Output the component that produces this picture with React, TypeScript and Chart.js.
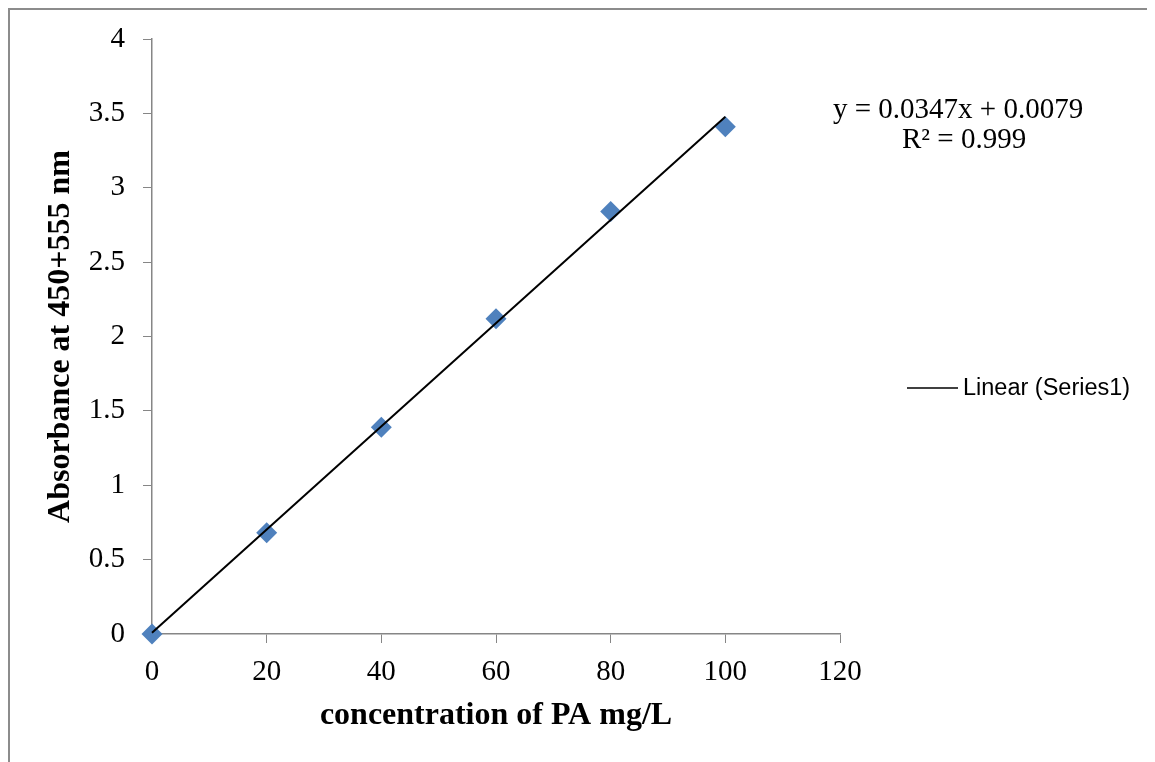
import React, { useEffect, useRef } from "react";
import { Chart, registerables } from "chart.js";

Chart.register(...registerables);

// Data
const concentrations = [0, 20, 40, 60, 80, 100];
const absorbances = [0, 0.68, 1.39, 2.12, 2.84, 3.41];
const trendX = [0, 100];
const trendY = [0.0079, 3.4779];
const equationLines = ["y = 0.0347x + 0.0079", "R\u00b2 = 0.999"];
const legendLabel = "Linear (Series1)";
const xTitle = "concentration of PA mg/L";
const yTitle = "Absorbance at 450+555 nm";

const AXIS = "#868686";
const SERIF = "'Liberation Serif', 'Times New Roman', serif";

const annotationPlugin = {
  id: "annotations",
  afterDraw(chart: any) {
    const ctx = chart.ctx;
    ctx.save();
    // trendline equation
    ctx.fillStyle = "#000";
    ctx.font = `29px ${SERIF}`;
    ctx.textBaseline = "alphabetic";
    ctx.textAlign = "left";
    ctx.fillText(equationLines[0], 823, 108);
    ctx.fillText(equationLines[1], 892, 138);
    // legend
    const ly = 378;
    ctx.strokeStyle = "#000";
    ctx.lineWidth = 1.5;
    ctx.beginPath();
    ctx.moveTo(897, ly);
    ctx.lineTo(948, ly);
    ctx.stroke();
    ctx.font = `23.5px 'Liberation Sans', Arial, sans-serif`;
    ctx.textBaseline = "middle";
    ctx.fillText(legendLabel, 953, ly + 1);
    ctx.restore();
  },
};

export default function App() {
  const ref = useRef<HTMLCanvasElement | null>(null);

  useEffect(() => {
    document.documentElement.style.overflow = "hidden";
    document.body.style.overflow = "hidden";
    const canvas = ref.current;
    if (!canvas) return;
    const chart = new Chart(canvas, {
      type: "scatter",
      data: {
        datasets: [
          {
            label: legendLabel,
            data: trendX.map((x, i) => ({ x, y: trendY[i] })),
            showLine: true,
            borderColor: "#000",
            borderWidth: 2,
            pointRadius: 0,
            fill: false,
            clip: false,
          },
          {
            label: "Series1",
            data: concentrations.map((x, i) => ({ x, y: absorbances[i] })),
            pointStyle: "rectRot",
            pointRadius: 10.5,
            backgroundColor: "#4f81bd",
            borderColor: "#4f81bd",
            borderWidth: 0,
            clip: false,
          },
        ],
      },
      options: {
        animation: false,
        responsive: false,
        layout: { padding: { left: 0, top: 0, right: 315, bottom: 0 } },
        plugins: {
          legend: { display: false },
          tooltip: { enabled: false },
        },
        scales: {
          x: {
            type: "linear",
            min: 0,
            max: 120,
            ticks: {
              stepSize: 20,
              color: "#000",
              padding: 12,
              font: { family: SERIF, size: 29 },
            },
            grid: {
              drawOnChartArea: false,
              drawTicks: true,
              tickLength: 9,
              color: AXIS,
            },
            border: { display: true, color: AXIS, width: 1.5 },
            title: {
              display: true,
              text: xTitle,
              color: "#000",
              font: { family: SERIF, size: 32, weight: "bold" },
              padding: { top: 0, bottom: 27 },
            },
            afterFit: (scale: any) => {
              scale.height = 128;
            },
          },
          y: {
            type: "linear",
            min: 0,
            max: 4,
            ticks: {
              stepSize: 0.5,
              color: "#000",
              padding: 18,
              font: { family: SERIF, size: 29 },
              callback: (value: any) => String(value),
            },
            grid: {
              drawOnChartArea: false,
              drawTicks: true,
              tickLength: 9,
              color: AXIS,
            },
            border: { display: true, color: AXIS, width: 1.5 },
            title: {
              display: true,
              text: yTitle,
              color: "#000",
              font: { family: SERIF, size: 32, weight: "bold" },
              padding: { top: 32, bottom: 0 },
            },
            afterFit: (scale: any) => {
              scale.width = 142;
              scale.paddingTop = 29;
            },
          },
        },
      },
      plugins: [annotationPlugin],
    });
    return () => chart.destroy();
  }, []);

  return (
    <div
      style={{
        width: 1145,
        height: 752,
        borderTop: "2px solid #8c8c8c",
        borderLeft: "2px solid #8c8c8c",
        background: "#fff",
      }}
    >
      <canvas ref={ref} width={1145} height={752} style={{ display: "block" }} />
    </div>
  );
}
